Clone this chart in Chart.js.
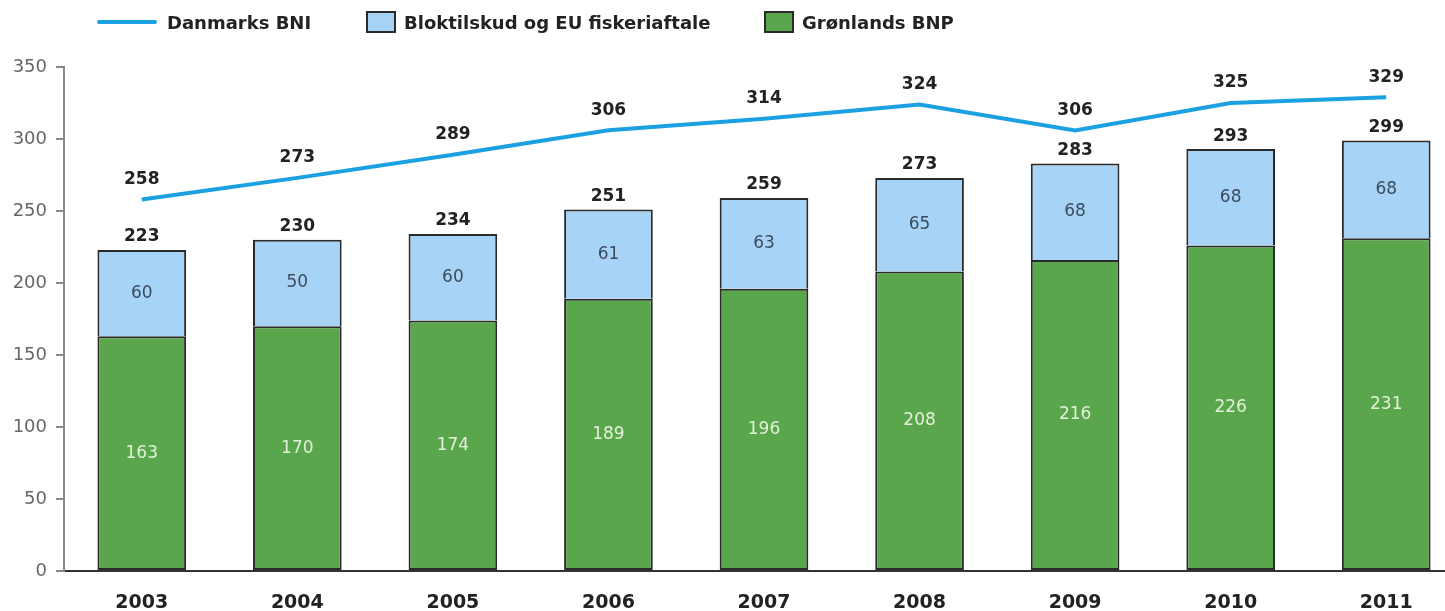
<!DOCTYPE html>
<html><head><meta charset="utf-8">
<script src="https://cdn.jsdelivr.net/npm/chart.js@4.4.1/dist/chart.umd.min.js"></script>
<style>
html,body{margin:0;padding:0;background:#fff;overflow:hidden;width:1445px;height:611px;position:relative}
#wrap{position:absolute;left:0;top:0;width:1464px;height:611px}
#legend{position:absolute;top:0;left:0;width:1445px;height:44px;font:bold 18px "DejaVu Sans",sans-serif;color:#222;z-index:2}
.item{position:absolute;top:11px;height:22px;display:flex;align-items:center;white-space:nowrap}
.ln{width:60px;height:4px;background:#1ba1e2;margin-right:10px;border-radius:2px}
.bx{width:26px;height:18px;border:2px solid #2a2a2a;margin-right:8px;box-sizing:content-box}
</style>
</head><body>
<div id="legend">
  <div class="item" style="left:97px"><span class="ln"></span><span>Danmarks BNI</span></div>
  <div class="item" style="left:366px"><span class="bx" style="background:#a7d3f6"></span><span>Bloktilskud og EU fiskeriaftale</span></div>
  <div class="item" style="left:764px"><span class="bx" style="background:#5aa64d"></span><span>Grønlands BNP</span></div>
</div>
<div id="wrap"><canvas id="c"></canvas></div>
<script>
const years = ['2003','2004','2005','2006','2007','2008','2009','2010','2011'];
const groenlandsBNP = [163,170,174,189,196,208,216,226,231];
const bloktilskud = [60,60,60,62,63,65,67,67,68];
const bloktilskudLabels = ['60','50','60','61','63','65','68','68','68'];
const totals = [223,230,234,251,259,273,283,293,299];
const danmarksBNI = [258,273,289,306,314,324,306,325,329];
const yTickValues = [0,50,100,150,200,250,300,350];

const FONT = '"DejaVu Sans", Verdana, sans-serif';

const labelPlugin = {
  id: 'valueLabels',
  afterDatasetsDraw(chart) {
    const ctx = chart.ctx;
    const mLine = chart.getDatasetMeta(0);
    const mG = chart.getDatasetMeta(1);
    const mB = chart.getDatasetMeta(2);
    ctx.save();
    ctx.textAlign = 'center';
    ctx.textBaseline = 'middle';
    ctx.font = '17px ' + FONT;
    ctx.fillStyle = '#e4f1da';
    mG.data.forEach((el, i) => ctx.fillText(String(groenlandsBNP[i]), el.x, (el.y + el.base) / 2));
    ctx.fillStyle = '#3b4b5e';
    mB.data.forEach((el, i) => ctx.fillText(bloktilskudLabels[i], el.x, (el.y + el.base) / 2));
    ctx.font = 'bold 17px ' + FONT;
    ctx.fillStyle = '#222';
    mB.data.forEach((el, i) => ctx.fillText(String(totals[i]), el.x, el.y - 13));
    mLine.data.forEach((el, i) => ctx.fillText(String(danmarksBNI[i]), el.x, el.y - 20));
    ctx.restore();
  }
};

new Chart(document.getElementById('c'), {
  type: 'bar',
  data: {
    labels: years,
    datasets: [
      {
        type: 'line', label: 'Danmarks BNI', data: danmarksBNI, stack: 'line',
        borderColor: '#1ba1e2', borderWidth: 4, pointRadius: 0, tension: 0, fill: false, order: 0
      },
      {
        label: 'Grønlands BNP', data: groenlandsBNP, stack: 'bars',
        backgroundColor: '#5aa64d', borderColor: '#2a2a2a', borderWidth: 2, borderSkipped: false, order: 1
      },
      {
        label: 'Bloktilskud og EU fiskeriaftale', data: bloktilskud, stack: 'bars',
        backgroundColor: '#a7d3f6', borderColor: '#2a2a2a', borderWidth: 2, borderSkipped: 'bottom', order: 1
      }
    ]
  },
  options: {
    responsive: true,
    maintainAspectRatio: false,
    animation: false,
    layout: { padding: { top: 67, left: 0, right: 0, bottom: 0 } },
    plugins: { legend: { display: false }, tooltip: { enabled: false } },
    datasets: { bar: { categoryPercentage: 1, barPercentage: 0.57 } },
    scales: {
      x: {
        stacked: true,
        afterFit(s) { s.height = 40; },
        grid: { display: false, drawTicks: false },
        border: { display: true, color: '#333', width: 2 },
        ticks: { padding: 23, color: '#222', font: { family: FONT, size: 19, weight: 'bold', lineHeight: 1 } }
      },
      y: {
        stacked: true,
        min: 0, max: 350,
        afterFit(s) { s.width = 64; },
        afterBuildTicks(s) { s.ticks = yTickValues.map(v => ({ value: v })); },
        grid: { drawOnChartArea: false, drawTicks: true, tickLength: 8, color: '#888', lineWidth: 2 },
        border: { display: true, color: '#888', width: 2 },
        ticks: { padding: 9, color: '#666', font: { family: FONT, size: 18 } }
      }
    }
  },
  plugins: [labelPlugin]
});
</script>
</body></html>
